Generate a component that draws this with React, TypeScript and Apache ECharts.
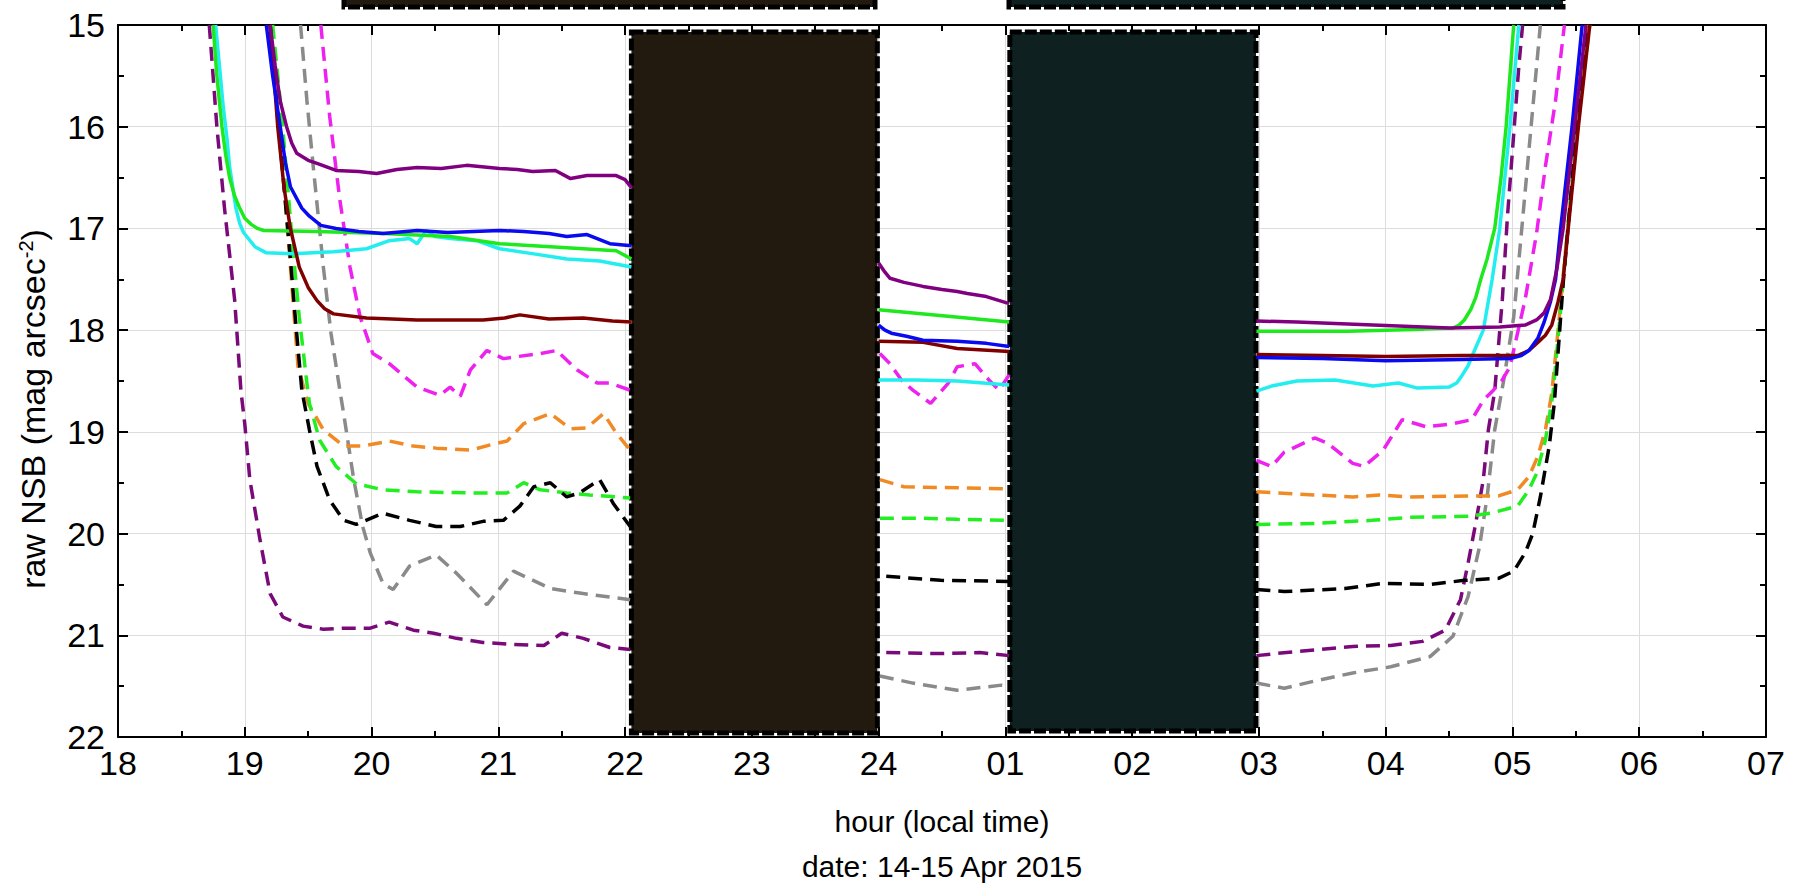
import React, { useEffect, useRef } from "react";
import * as echarts from "echarts";

type Pt = [number, number] | null;

// Hours are counted from 18 (18 = 18:00, 24 = midnight, 25 = 01:00 ...)
const xTickLabels = ["18", "19", "20", "21", "22", "23", "24", "01", "02", "03", "04", "05", "06", "07"];
const yTicks = [15, 16, 17, 18, 19, 20, 21, 22];

const purpleSolid: Pt[] = [
  [19.2, 15.0], [19.24, 15.4], [19.28, 15.75], [19.33, 16.0], [19.37, 16.16], [19.41, 16.26], [19.5, 16.33], [19.57, 16.36], [19.72, 16.43],
  [19.9, 16.44], [20.04, 16.46], [20.2, 16.42], [20.36, 16.4], [20.55, 16.41], [20.75, 16.38], [21.01, 16.41],
  [21.15, 16.42], [21.27, 16.44], [21.45, 16.43], [21.57, 16.51], [21.7, 16.48], [21.93, 16.48], [22.0, 16.52],
  [22.05, 16.6], null,
  [24.0, 17.34], [24.05, 17.43], [24.09, 17.49], [24.2, 17.53], [24.35, 17.57], [24.5, 17.6], [24.62, 17.62], [24.7, 17.64],
  [24.85, 17.67], [25.03, 17.74], null,
  [26.98, 17.91], [27.3, 17.92], [27.7, 17.94], [28.1, 17.96], [28.5, 17.98], [28.9, 17.97], [29.1, 17.95],
  [29.19, 17.9], [29.25, 17.83], [29.3, 17.7], [29.35, 17.4], [29.4, 17.0], [29.49, 16.0], [29.58, 15.0],
];

const blueSolid: Pt[] = [
  [19.17, 15.0], [19.22, 15.5], [19.28, 16.0], [19.32, 16.35], [19.36, 16.59], [19.45, 16.8], [19.51, 16.88], [19.6, 16.97], [19.72, 17.0],
  [19.9, 17.03], [20.09, 17.05], [20.36, 17.02], [20.6, 17.04], [21.01, 17.02], [21.2, 17.03], [21.4, 17.05],
  [21.54, 17.08], [21.7, 17.06], [21.88, 17.15], [22.05, 17.17], null,
  [24.0, 17.95], [24.05, 18.0], [24.1, 18.03], [24.22, 18.06], [24.35, 18.1], [24.62, 18.11], [24.85, 18.13], [25.03, 18.16], null,
  [26.98, 18.27], [27.5, 18.28], [28.0, 18.3], [28.5, 18.29], [28.98, 18.28], [29.07, 18.25], [29.13, 18.2], [29.2, 18.08], [29.25, 17.92],
  [29.3, 17.72], [29.34, 17.5], [29.38, 17.0], [29.47, 16.0], [29.55, 15.0],
];

const greenSolid: Pt[] = [
  [18.75, 15.0], [18.78, 15.5], [18.82, 16.0], [18.85, 16.28], [18.88, 16.5], [18.92, 16.68], [18.96, 16.8], [19.0, 16.9],
  [19.05, 16.96], [19.1, 17.0], [19.15, 17.02], [19.57, 17.03],
  [20.09, 17.05], [20.62, 17.08], [21.01, 17.15], [21.41, 17.18], [21.67, 17.2], [21.93, 17.22], [22.05, 17.3], null,
  [24.0, 17.8], [25.03, 17.92], null,
  [26.98, 18.01], [27.7, 18.01], [28.3, 17.99], [28.53, 17.98], [28.58, 17.95], [28.62, 17.9], [28.67, 17.8], [28.71, 17.68],
  [28.75, 17.5], [28.8, 17.3], [28.86, 17.0], [28.91, 16.5], [28.95, 16.0], [29.01, 15.0],
];

const cyanSolid: Pt[] = [
  [18.77, 15.0], [18.8, 15.4], [18.83, 15.8], [18.86, 16.12], [18.88, 16.39], [18.93, 16.8], [18.96, 16.95], [18.99, 17.04], [19.08, 17.18], [19.17, 17.24],
  [19.38, 17.25], [19.7, 17.23], [19.96, 17.2], [20.14, 17.12], [20.3, 17.1], [20.36, 17.15], [20.43, 17.02],
  [20.5, 17.08], [20.62, 17.1], [20.83, 17.12], [21.01, 17.2], [21.28, 17.25], [21.54, 17.3], [21.8, 17.32],
  [22.05, 17.38], null,
  [24.0, 18.49], [24.3, 18.49], [24.62, 18.5], [25.03, 18.54], null,
  [26.98, 18.6], [27.1, 18.55], [27.3, 18.5], [27.6, 18.49], [27.9, 18.55], [28.1, 18.52], [28.25, 18.57],
  [28.5, 18.56], [28.56, 18.52], [28.6, 18.45], [28.65, 18.35], [28.69, 18.23], [28.77, 18.0], [28.84, 17.5], [28.9, 17.0], [28.98, 16.0], [29.05, 15.0],
];

const maroonSolid: Pt[] = [
  [19.2, 15.0], [19.26, 16.0], [19.31, 16.6], [19.36, 17.0], [19.43, 17.38], [19.5, 17.58], [19.57, 17.71], [19.63, 17.79], [19.7, 17.84],
  [19.96, 17.88], [20.36, 17.9], [20.88, 17.9], [21.05, 17.88], [21.17, 17.85], [21.4, 17.89], [21.67, 17.88],
  [21.9, 17.91], [22.05, 17.92], null,
  [24.0, 18.11], [24.35, 18.12], [24.62, 18.18], [25.03, 18.21], null,
  [26.98, 18.24], [27.5, 18.25], [28.0, 18.26], [28.6, 18.25], [29.04, 18.25], [29.13, 18.2], [29.2, 18.12], [29.26, 18.05], [29.31, 17.95],
  [29.36, 17.72], [29.4, 17.5], [29.44, 17.0], [29.52, 16.0], [29.61, 15.0],
];

const purpleDashed: Pt[] = [
  [18.72, 15.0], [18.78, 16.0], [18.84, 16.8], [18.92, 17.7], [18.97, 18.6], [19.0, 18.92], [19.04, 19.47],
  [19.12, 20.06], [19.2, 20.59], [19.3, 20.82], [19.46, 20.91], [19.62, 20.94], [19.78, 20.93], [19.99, 20.93],
  [20.14, 20.87], [20.33, 20.95], [20.49, 20.98], [20.67, 21.03], [20.88, 21.07], [21.12, 21.09], [21.36, 21.1],
  [21.5, 20.98], [21.67, 21.03], [21.88, 21.12], [22.04, 21.14], null,
  [24.06, 21.17], [24.5, 21.18], [24.8, 21.17], [25.03, 21.2], null,
  [26.98, 21.2], [27.29, 21.16], [27.74, 21.11], [28.04, 21.1], [28.29, 21.06], [28.47, 20.95], [28.59, 20.65],
  [28.65, 20.29], [28.71, 19.9], [28.77, 19.47], [28.81, 18.98], [28.86, 18.6], [28.92, 17.7], [28.96, 16.89],
  [29.01, 16.07], [29.05, 15.41], [29.08, 15.0],
];

const grayDashed: Pt[] = [
  [19.44, 15.0], [19.49, 15.74], [19.54, 16.39], [19.62, 17.38], [19.68, 18.03], [19.75, 18.59], [19.78, 18.82],
  [19.86, 19.47], [19.93, 19.93], [19.99, 20.19], [20.09, 20.49], [20.17, 20.55], [20.3, 20.32], [20.51, 20.21],
  [20.67, 20.39], [20.91, 20.7], [21.12, 20.37], [21.41, 20.54], [21.67, 20.59], [22.04, 20.65], null,
  [24.01, 21.4], [24.27, 21.47], [24.62, 21.54], [24.97, 21.49], [25.03, 21.5], null,
  [26.98, 21.47], [27.2, 21.52], [27.44, 21.45], [27.74, 21.37], [28.04, 21.31], [28.35, 21.21], [28.53, 21.01],
  [28.65, 20.62], [28.74, 20.13], [28.8, 19.64], [28.86, 18.98], [28.93, 18.5], [29.01, 17.87], [29.07, 17.05],
  [29.13, 16.23], [29.19, 15.41], [29.22, 15.0],
];

const magentaDashed: Pt[] = [
  [19.6, 15.0], [19.67, 15.9], [19.75, 16.72], [19.83, 17.38], [19.91, 17.87], [20.01, 18.23], [20.14, 18.33],
  [20.36, 18.56], [20.54, 18.64], [20.62, 18.56], [20.7, 18.65], [20.78, 18.39], [20.91, 18.2], [21.04, 18.28],
  [21.15, 18.26], [21.33, 18.23], [21.46, 18.2], [21.62, 18.39], [21.78, 18.52], [21.88, 18.52], [22.04, 18.59], null,
  [24.01, 18.23], [24.09, 18.33], [24.18, 18.49], [24.27, 18.59], [24.41, 18.72], [24.55, 18.52], [24.62, 18.36],
  [24.76, 18.33], [24.87, 18.49], [24.95, 18.59], [25.03, 18.44], null,
  [26.98, 19.28], [27.1, 19.34], [27.2, 19.2], [27.44, 19.06], [27.54, 19.11], [27.74, 19.31], [27.83, 19.34],
  [27.98, 19.18], [28.13, 18.88], [28.32, 18.95], [28.53, 18.92], [28.68, 18.88], [28.77, 18.69], [28.85, 18.59],
  [28.92, 18.49], [28.98, 18.36], [29.1, 17.7], [29.19, 17.05], [29.26, 16.39], [29.34, 15.74], [29.41, 15.0],
];

const orangeDashed: Pt[] = [
  [19.2, 15.0], [19.26, 15.87], [19.3, 16.39], [19.34, 17.05], [19.38, 17.7], [19.42, 18.36], [19.5, 18.72],
  [19.62, 18.98], [19.78, 19.14], [19.93, 19.14], [20.14, 19.09], [20.33, 19.14], [20.51, 19.16], [20.78, 19.18],
  [20.93, 19.13], [21.07, 19.09], [21.2, 18.92], [21.41, 18.82], [21.57, 18.97], [21.7, 18.96], [21.83, 18.82],
  [21.93, 19.01], [22.04, 19.18], null,
  [24.01, 19.47], [24.2, 19.54], [24.62, 19.55], [25.03, 19.56], null,
  [26.98, 19.59], [27.44, 19.62], [27.74, 19.64], [27.95, 19.62], [28.19, 19.64], [28.65, 19.63], [28.89, 19.63],
  [29.04, 19.57], [29.13, 19.44], [29.2, 19.24], [29.26, 18.98], [29.31, 18.62], [29.36, 18.0], [29.42, 17.2],
  [29.5, 16.2], [29.57, 15.3], [29.6, 15.0],
];

const greenDashed: Pt[] = [
  [19.22, 15.0], [19.29, 15.87], [19.33, 16.46], [19.38, 17.21], [19.43, 17.87], [19.49, 18.52], [19.51, 18.72],
  [19.59, 19.08], [19.72, 19.34], [19.88, 19.51], [20.09, 19.57], [20.36, 19.59], [20.75, 19.6], [21.07, 19.6],
  [21.2, 19.5], [21.33, 19.57], [21.54, 19.6], [21.72, 19.62], [22.04, 19.65], null,
  [24.01, 19.85], [24.35, 19.85], [24.62, 19.86], [25.03, 19.87], null,
  [26.98, 19.91], [27.44, 19.9], [27.89, 19.87], [28.19, 19.84], [28.65, 19.83], [28.83, 19.8], [29.04, 19.73],
  [29.13, 19.57], [29.19, 19.41], [29.26, 19.08], [29.32, 18.62], [29.38, 17.8], [29.45, 16.8], [29.53, 15.8],
  [29.61, 15.0],
];

const blackDashed: Pt[] = [
  [19.2, 15.0], [19.26, 15.9], [19.31, 16.6], [19.36, 17.3], [19.4, 17.9], [19.45, 18.59], [19.51, 18.98],
  [19.57, 19.34], [19.67, 19.67], [19.78, 19.87], [19.88, 19.91], [20.09, 19.8], [20.3, 19.87], [20.51, 19.93],
  [20.7, 19.93], [20.88, 19.88], [21.04, 19.87], [21.17, 19.73], [21.28, 19.54], [21.41, 19.5], [21.54, 19.64],
  [21.64, 19.6], [21.8, 19.47], [21.91, 19.71], [22.04, 19.93], null,
  [24.06, 20.42], [24.49, 20.46], [25.03, 20.47], null,
  [26.98, 20.55], [27.2, 20.57], [27.68, 20.54], [27.98, 20.49], [28.35, 20.5], [28.62, 20.46], [28.89, 20.44],
  [29.01, 20.37], [29.1, 20.19], [29.16, 20.0], [29.22, 19.64], [29.29, 19.14], [29.33, 18.72], [29.4, 17.54],
  [29.48, 16.39], [29.55, 15.41], [29.6, 15.0],
];

// masked intervals [startHour, endHour, topMag, bottomMag]
const maskBrown = [22.05, 23.99, 15.07, 21.96];
const maskTeal = [25.035, 26.977, 15.07, 21.94];

const FONT = "'Liberation Sans', Arial, sans-serif";

function hourLabel(v: number): string {
  const i = Math.round(v) - 18;
  return xTickLabels[i] ?? "";
}

export default function App() {
  const ref = useRef<HTMLDivElement>(null);

  useEffect(() => {
    document.body.style.margin = "0";
    if (!ref.current) return;
    const chart = echarts.init(ref.current, undefined, { renderer: "svg" });

    const solid = (name: string, color: string, data: Pt[]) => ({
      name,
      type: "line",
      data,
      showSymbol: false,
      symbol: "none",
      connectNulls: false,
      lineStyle: { color, width: 3.5 },
      z: 3,
    });
    const dashed = (name: string, color: string, data: Pt[]) => ({
      name,
      type: "line",
      data,
      showSymbol: false,
      symbol: "none",
      connectNulls: false,
      lineStyle: { color, width: 3.5, type: [14, 8] },
      z: 3,
    });

    const boxStyle = (fill: string) => ({
      color: fill,
      opacity: 1,
      borderColor: "#000",
      borderWidth: 5,
      borderType: [12, 3],
    });

    const majorTick = { show: true, inside: true, length: 10, lineStyle: { color: "#000", width: 2 } };
    const minorTick = { show: true, splitNumber: 2, length: 6, lineStyle: { color: "#000", width: 2 } };
    const axisLine = { show: true, onZero: false, lineStyle: { color: "#000", width: 2 } };

    const option: any = {
      animation: false,
      backgroundColor: "#fff",
      grid: { left: 118, right: 32, top: 25, bottom: 147, containLabel: false },
      xAxis: [
        {
          type: "value",
          min: 18,
          max: 31,
          interval: 1,
          position: "bottom",
          axisLine,
          axisTick: majorTick,
          minorTick: { ...minorTick },
          splitLine: { show: true, lineStyle: { color: "#dcdcdc", width: 1 } },
          axisLabel: {
            color: "#000",
            fontSize: 34,
            fontFamily: FONT,
            margin: 9,
            formatter: (v: number) => hourLabel(v),
          },
          name: "hour (local time)",
          nameLocation: "middle",
          nameGap: 69,
          nameTextStyle: { color: "#000", fontSize: 30, fontFamily: FONT },
        },
        {
          type: "value",
          min: 18,
          max: 31,
          interval: 1,
          position: "top",
          axisLine,
          axisTick: majorTick,
          minorTick: { ...minorTick },
          splitLine: { show: false },
          axisLabel: { show: false },
        },
      ],
      yAxis: [
        {
          type: "value",
          min: 15,
          max: 22,
          interval: 1,
          inverse: true,
          position: "left",
          axisLine,
          axisTick: majorTick,
          minorTick: { ...minorTick },
          splitLine: { show: true, lineStyle: { color: "#dcdcdc", width: 1 } },
          axisLabel: {
            color: "#000",
            fontSize: 34,
            fontFamily: FONT,
            margin: 13,
            formatter: (v: number) => (yTicks.includes(v) ? String(v) : ""),
          },
        },
        {
          type: "value",
          min: 15,
          max: 22,
          interval: 1,
          inverse: true,
          position: "right",
          axisLine,
          axisTick: majorTick,
          minorTick: { ...minorTick },
          splitLine: { show: false },
          axisLabel: { show: false },
        },
      ],
      series: [
        dashed("purple dashed", "#7a0a7a", purpleDashed),
        dashed("gray dashed", "#8a8a8a", grayDashed),
        dashed("magenta dashed", "#ee22ee", magentaDashed),
        dashed("orange dashed", "#f08a24", orangeDashed),
        dashed("green dashed", "#22ee22", greenDashed),
        dashed("black dashed", "#000000", blackDashed),
        solid("cyan", "#22eef0", cyanSolid),
        solid("green", "#1ee81e", greenSolid),
        solid("maroon", "#800000", maroonSolid),
        solid("blue", "#0a0af0", blueSolid),
        solid("purple", "#800080", purpleSolid),
        {
          name: "masks",
          type: "line",
          data: [],
          z: 10,
          markArea: {
            silent: true,
            label: { show: false },
            data: [
              [
                { xAxis: maskBrown[0], yAxis: maskBrown[2], itemStyle: boxStyle("#231a0f") },
                { xAxis: maskBrown[1], yAxis: maskBrown[3] },
              ],
              [
                { xAxis: maskTeal[0], yAxis: maskTeal[2], itemStyle: boxStyle("#0e2020") },
                { xAxis: maskTeal[1], yAxis: maskTeal[3] },
              ],
            ],
          },
        },
      ],
      graphic: [
        {
          type: "rect",
          shape: { x: 344, y: -12, width: 531, height: 19 },
          style: { fill: "#231a0f", stroke: "#000", lineWidth: 5, lineDash: [12, 3] },
          z: 20,
        },
        {
          type: "rect",
          shape: { x: 1009, y: -12, width: 554, height: 19 },
          style: { fill: "#0e2020", stroke: "#000", lineWidth: 5, lineDash: [12, 3] },
          z: 20,
        },
        {
          type: "text",
          x: 942,
          y: 866,
          style: {
            text: "date: 14-15 Apr 2015",
            fill: "#000",
            fontSize: 30,
            fontFamily: FONT,
            align: "center",
            verticalAlign: "middle",
          },
        },
        {
          type: "text",
          x: 33,
          y: 409,
          rotation: Math.PI / 2,
          style: {
            text: "raw NSB (mag arcsec{sup|-2})",
            fill: "#000",
            fontSize: 34,
            fontFamily: FONT,
            align: "center",
            verticalAlign: "middle",
            rich: {
              sup: { fontSize: 20, fontFamily: FONT, fill: "#000", verticalAlign: "top", lineHeight: 34 },
            },
          },
        },
      ],
    };

    chart.setOption(option);
    return () => chart.dispose();
  }, []);

  return <div ref={ref} style={{ width: 1798, height: 884 }} />;
}
